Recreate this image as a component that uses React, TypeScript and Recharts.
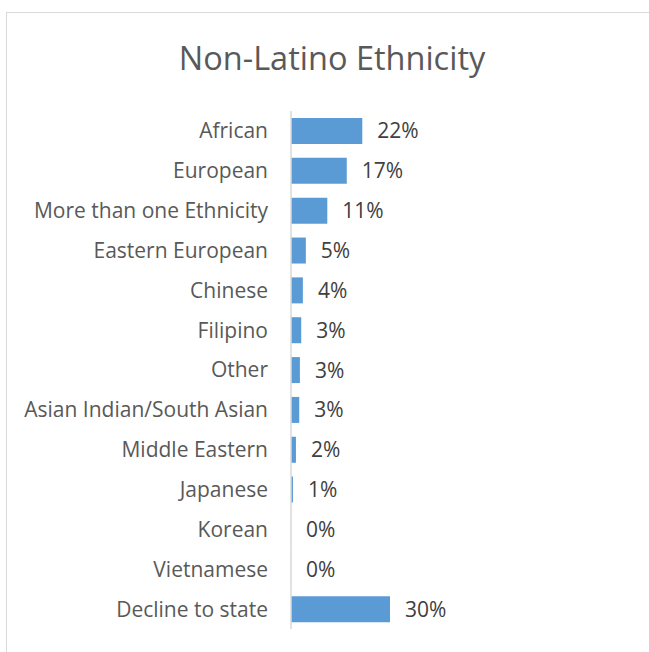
import React from 'react';
import { BarChart, Bar, XAxis, YAxis, LabelList } from 'recharts';

const categories = [
  'African',
  'European',
  'More than one Ethnicity',
  'Eastern European',
  'Chinese',
  'Filipino',
  'Other',
  'Asian Indian/South Asian',
  'Middle Eastern',
  'Japanese',
  'Korean',
  'Vietnamese',
  'Decline to state',
];

const percents = [21.6, 16.9, 11.0, 4.5, 3.6, 3.1, 2.7, 2.5, 1.5, 0.6, 0, 0, 30.0];

const title = 'Non-Latino Ethnicity';

const data = categories.map((name, i) => ({ name, value: percents[i] }));

const FONT = '"Open Sans", "Noto Sans", sans-serif';

export default function App() {
  return (
    <div>
      <style>{`body{overflow:hidden;margin:0}`}</style>
      <div
        style={{
          position: 'fixed',
          left: 6,
          top: 12,
          width: 700,
          height: 700,
          border: '1px solid #d9d9d9',
          background: '#fff',
        }}
      >
        <div
          style={{
            position: 'absolute',
            left: 0,
            width: 650,
            top: 22,
            textAlign: 'center',
            fontFamily: FONT,
            fontSize: 32.5,
            lineHeight: 'normal',
            color: '#595959',
          }}
        >
          {title}
        </div>
        <div style={{ position: 'absolute', left: 0, top: 0 }}>
          <BarChart
            width={650}
            height={640}
            layout="vertical"
            data={data}
            margin={{ top: 98, right: 36, bottom: 24, left: 0 }}
          >
            <XAxis type="number" domain={[0, 100]} hide />
            <YAxis
              type="category"
              dataKey="name"
              width={284}
              tickSize={0}
              tickMargin={23}
              tickLine={false}
              axisLine={{ stroke: '#d9d9d9', strokeWidth: 1.5 }}
              interval={0}
              tick={{ fill: '#595959', fontSize: 21, fontFamily: FONT }}
            />
            <Bar
              dataKey="value"
              fill="#5b9bd5"
              barSize={26}
              minPointSize={0.05}
              isAnimationActive={false}
            >
              <LabelList
                dataKey="value"
                position="right"
                offset={15}
                formatter={(v: number) => Math.round(v) + '%'}
                style={{ fill: '#404040', fontSize: 21, fontFamily: FONT }}
              />
            </Bar>
          </BarChart>
        </div>
      </div>
    </div>
  );
}
